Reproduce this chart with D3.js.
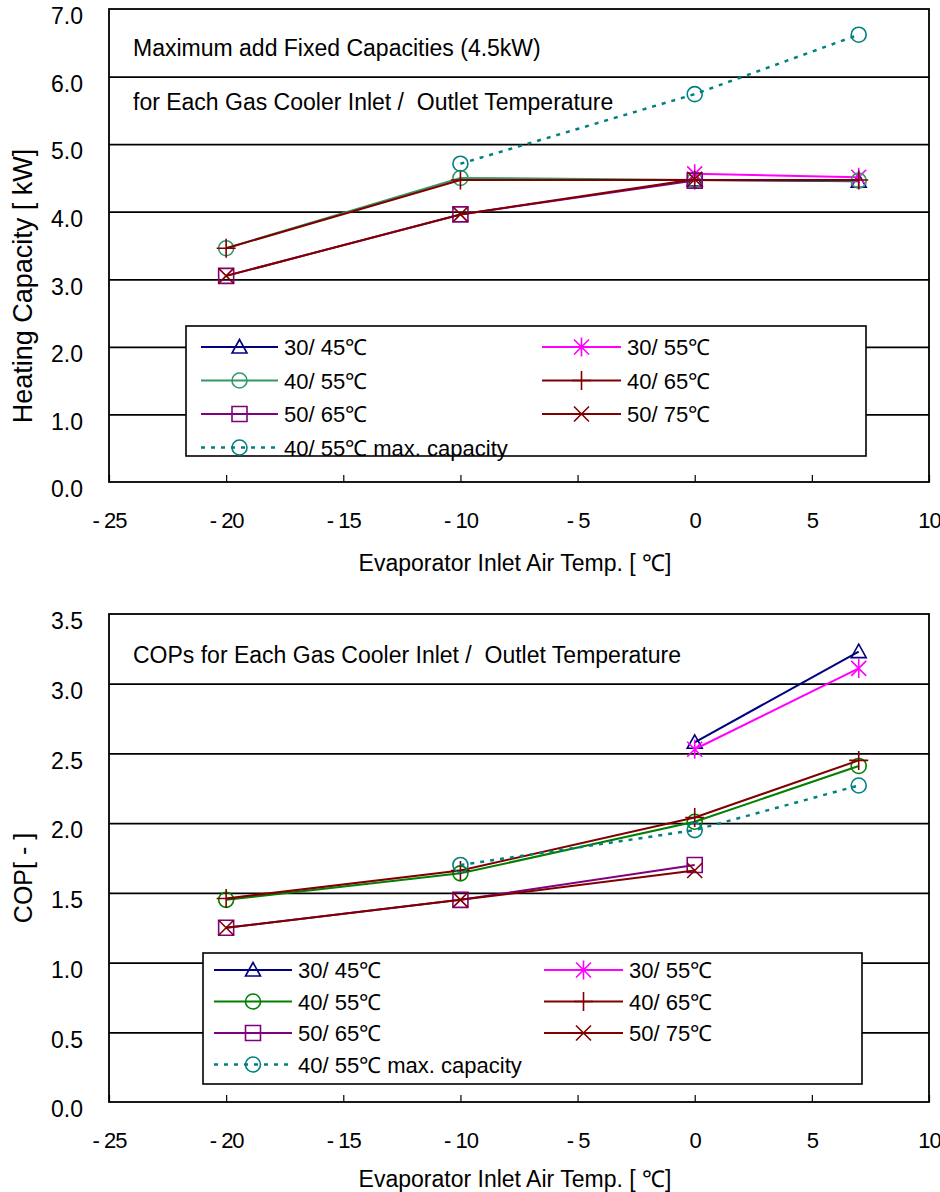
<!DOCTYPE html>
<html>
<head>
<meta charset="utf-8">
<script src="https://cdn.jsdelivr.net/npm/d3@7"></script>
<style>
  body { margin: 0; background: #fff; }
  svg text { font-family: "Liberation Sans", Arial, sans-serif; fill: #000; white-space: pre; }
</style>
</head>
<body>
<div id="chart"></div>
<script>
// evaporator inlet air temperatures
var temps = [-20, -10, 0, 7];
var xTicks = [-25, -20, -15, -10, -5, 0, 5, 10];

var seriesNames = ["30/ 45℃", "30/ 55℃", "40/ 55℃", "40/ 65℃", "50/ 65℃", "50/ 75℃", "40/ 55℃ max. capacity"];
var symbols = ["triangle", "asterisk", "circle", "plus", "square", "cross", "circle"];

// heating capacity [kW], null = no point
var cap3045 = [null, null, 4.47, 4.45];
var cap3055 = [null, null, 4.56, 4.51];
var cap4055 = [3.46, 4.50, 4.47, 4.46];
var cap4065 = [3.46, 4.47, 4.47, 4.47];
var cap5065 = [3.05, 3.96, 4.46, null];
var cap5075 = [3.05, 3.96, 4.48, null];
var capMax  = [null, 4.71, 5.74, 6.62];

// COP [-]
var cop3045 = [null, null, 2.58, 3.23];
var cop3055 = [null, null, 2.53, 3.11];
var cop4055 = [1.45, 1.64, 2.01, 2.41];
var cop4065 = [1.46, 1.66, 2.04, 2.45];
var cop5065 = [1.25, 1.45, 1.70, null];
var cop5075 = [1.25, 1.45, 1.66, null];
var copMax  = [null, 1.70, 1.95, 2.27];

var capTicks = [0, 1, 2, 3, 4, 5, 6, 7];
var copTicks = [0, 0.5, 1.0, 1.5, 2.0, 2.5, 3.0, 3.5];

var svg = d3.select("#chart").append("svg")
    .attr("width", 940)
    .attr("height", 1192);

function symbolPath(type, s) {
  if (type == "triangle") return "M0," + (-s) + "L" + s + "," + (s * 0.8) + "L" + (-s) + "," + (s * 0.8) + "Z";
  if (type == "square") return "M" + (-s) + "," + (-s) + "H" + s + "V" + s + "H" + (-s) + "Z";
  if (type == "plus") return "M0," + (-s - 2) + "V" + (s + 2) + "M" + (-s - 2) + ",0H" + (s + 2);
  if (type == "cross") return "M" + (-s) + "," + (-s) + "L" + s + "," + s + "M" + s + "," + (-s) + "L" + (-s) + "," + s;
  if (type == "asterisk") return "M0," + (-s - 2) + "V" + (s + 2) + "M" + (-s) + "," + (-s) + "L" + s + "," + s + "M" + s + "," + (-s) + "L" + (-s) + "," + s;
  return null;
}

function drawMarker(g, type, color, x, y) {
  if (type == "circle") {
    g.append("circle").attr("cx", x).attr("cy", y).attr("r", 7.5)
      .style("fill", "none").style("stroke", color).style("stroke-width", 1.6);
  } else {
    g.append("path").attr("transform", "translate(" + x + "," + y + ")")
      .attr("d", symbolPath(type, 7.5))
      .style("fill", "none").style("stroke", color).style("stroke-width", 1.6);
  }
}

function drawPanel(p) {
  var x = d3.scaleLinear().domain([-25, 10]).range([109, 929]);
  var y = d3.scaleLinear().domain([0, p.yMax]).range([p.bottom, p.top]);
  var g = svg.append("g");

  // gridlines
  g.append("g")
    .attr("transform", "translate(109,0)")
    .call(d3.axisLeft(y).tickValues(p.ticks.slice(1, -1)).tickSize(-820).tickFormat(""))
    .call(function(a) { a.select(".domain").remove(); })
    .selectAll("line").style("stroke", "#000").style("stroke-width", 1.8);

  // y labels
  g.append("g")
    .attr("transform", "translate(109,0)")
    .call(d3.axisLeft(y).tickValues(p.ticks).tickSize(0).tickPadding(26).tickFormat(d3.format(".1f")))
    .call(function(a) { a.select(".domain").remove(); })
    .selectAll("text").attr("dy", "0.64em").style("font-size", "23px");

  // x axis
  g.append("g")
    .attr("transform", "translate(0," + p.bottom + ")")
    .call(d3.axisBottom(x).tickValues(xTicks).tickSizeInner(-7).tickSizeOuter(0).tickPadding(30)
      .tickFormat(function(d) { return d < 0 ? "- " + Math.abs(d) : d; }))
    .call(function(a) { a.select(".domain").remove(); })
    .call(function(a) { a.selectAll("line").style("stroke", "#000").style("stroke-width", 1.2); })
    .selectAll("text").style("font-size", "22px").style("letter-spacing", "-1px");

  // plot frame
  g.append("rect")
    .attr("x", 109).attr("y", p.top).attr("width", 820).attr("height", p.bottom - p.top)
    .style("fill", "none").style("stroke", "#000").style("stroke-width", 1.8);

  // axis titles
  g.append("text")
    .attr("x", 515).attr("y", p.xTitleY)
    .attr("text-anchor", "middle").style("font-size", "23px")
    .text("Evaporator Inlet Air Temp. [ ℃]");
  g.append("text")
    .attr("transform", "translate(32," + p.yTitleY + ") rotate(-90)")
    .attr("text-anchor", "middle").style("font-size", p.yTitleSize)
    .text(p.yTitle);

  // chart titles
  p.titles.forEach(function(t) {
    g.append("text").attr("x", 133).attr("y", t.y).style("font-size", "23px").text(t.text);
  });

  // series lines and markers
  p.series.forEach(function(vals, i) {
    var color = p.colors[i];
    var pts = temps.map(function(t, j) { return {t: t, v: vals[j]}; })
      .filter(function(d) { return d.v != null; });
    var line = d3.line().x(function(d) { return x(d.t); }).y(function(d) { return y(d.v); });
    var path = g.append("path").datum(pts).attr("d", line)
      .style("fill", "none").style("stroke", color).style("stroke-width", 2);
    if (i == 6) path.style("stroke-dasharray", "4,6").style("stroke-width", 2.5);
    pts.forEach(function(d) { drawMarker(g, symbols[i], color, x(d.t), y(d.v)); });
  });

  // legend
  var L = p.legend;
  g.append("rect").attr("x", L.x).attr("y", L.y).attr("width", L.w).attr("height", L.h)
    .style("fill", "#fff").style("stroke", "#000").style("stroke-width", 1.6);
  var order = [[0, 0, 0], [1, 1, 0], [2, 0, 1], [3, 1, 1], [4, 0, 2], [5, 1, 2], [6, 0, 3]];
  order.forEach(function(o) {
    var i = o[0], col = L.cols[o[1]], ry = L.y + L.row0 + o[2] * L.rowStep;
    var ln = g.append("line").attr("x1", col.x1).attr("x2", col.x2).attr("y1", ry).attr("y2", ry)
      .style("stroke", p.colors[i]).style("stroke-width", 2);
    if (i == 6) ln.style("stroke-dasharray", "4,6").style("stroke-width", 2.5);
    drawMarker(g, symbols[i], p.colors[i], (col.x1 + col.x2) / 2, ry);
    g.append("text").attr("x", col.x2 + 6).attr("y", ry + 8).style("font-size", "22px").text(seriesNames[i]);
  });
}

drawPanel({
  top: 9, bottom: 482, yMax: 7, ticks: capTicks,
  yTitle: "Heating Capacity [ kW]", yTitleY: 286, yTitleSize: "27px", xTitleY: 571,
  titles: [{y: 56, text: "Maximum add Fixed Capacities (4.5kW)"},
           {y: 110, text: "for Each Gas Cooler Inlet /  Outlet Temperature"}],
  series: [cap3045, cap3055, cap4055, cap4065, cap5065, cap5075, capMax],
  colors: ["#000080", "#ff00ff", "#339966", "#800000", "#800080", "#800000", "#008080"],
  legend: {x: 186, y: 326, w: 680, h: 130, row0: 21, rowStep: 33.5,
           cols: [{x1: 201, x2: 278}, {x1: 542, x2: 621}]}
});

drawPanel({
  top: 614, bottom: 1102, yMax: 3.5, ticks: copTicks,
  yTitle: "COP[ - ]", yTitleY: 878, yTitleSize: "25px", xTitleY: 1187,
  titles: [{y: 663, text: "COPs for Each Gas Cooler Inlet /  Outlet Temperature"}],
  series: [cop3045, cop3055, cop4055, cop4065, cop5065, cop5075, copMax],
  colors: ["#000080", "#ff00ff", "#008000", "#800000", "#800080", "#800000", "#008080"],
  legend: {x: 203, y: 953, w: 659, h: 131, row0: 17, rowStep: 31.5,
           cols: [{x1: 214, x2: 292}, {x1: 544, x2: 623}]}
});
</script>
</body>
</html>
